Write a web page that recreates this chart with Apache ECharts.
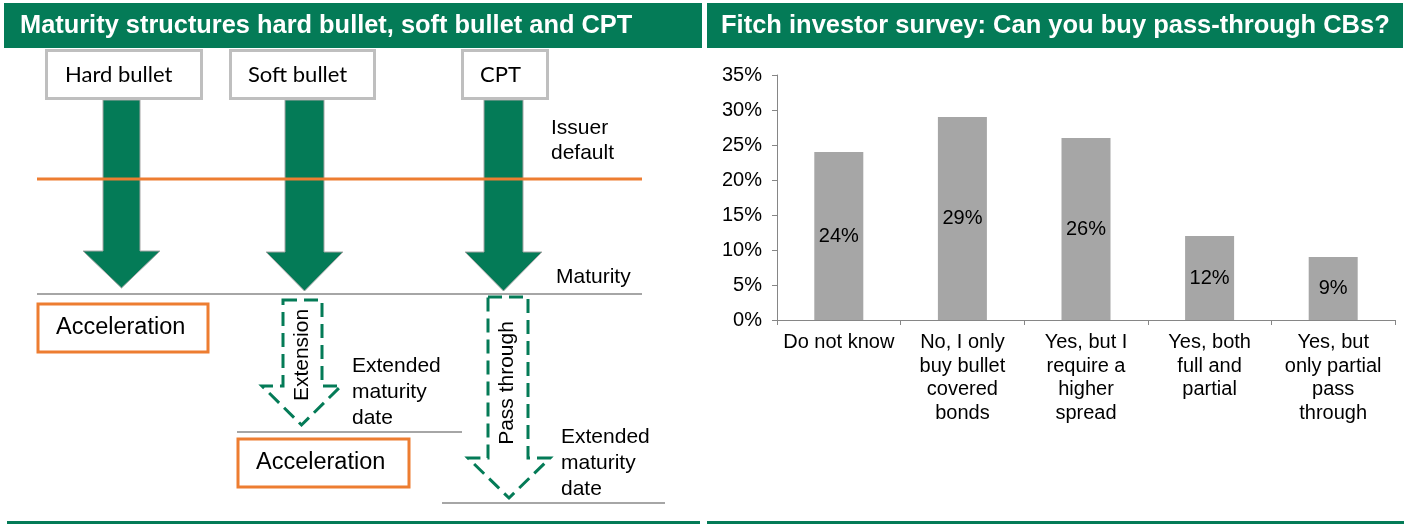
<!DOCTYPE html>
<html>
<head>
<meta charset="utf-8">
<script src="https://cdn.jsdelivr.net/npm/echarts@6/dist/echarts.min.js"></script>
<style>
  html, body { margin: 0; padding: 0; background: #fff; }
  #chart { width: 1410px; height: 524px; }
</style>
</head>
<body>
<div id="chart"></div>
<script>
// survey answers (share of investors, %)
var categories = [
  "Do not know",
  "No, I only\nbuy bullet\ncovered\nbonds",
  "Yes, but I\nrequire a\nhigher\nspread",
  "Yes, both\nfull and\npartial",
  "Yes, but\nonly partial\npass\nthrough"
];
var shares = [24, 29, 26, 12, 9];
var yMin = 0, yMax = 35, yStep = 5;

// diagram labels
var leftTitle = "Maturity structures hard bullet, soft bullet and CPT";
var rightTitle = "Fitch investor survey: Can you buy pass-through CBs?";
var structures = ["Hard bullet", "Soft bullet", "CPT"];

(function () {
  var myChart = echarts.init(document.getElementById("chart"));
  var green = "#047b57";
  var orange = "#ed7d31";
  var grey = "#a6a6a6";
  var arial = "'Liberation Sans', Arial, sans-serif";

  function txt(x, y, text, size, opts) {
    opts = opts || {};
    return {
      type: "text",
      x: x,
      y: y,
      rotation: opts.rotation || 0,
      style: {
        text: text,
        fontSize: size,
        fontFamily: opts.family || arial,
        fontWeight: opts.weight || "normal",
        lineHeight: opts.lineHeight || size * 1.2,
        fill: opts.fill || "#000",
        align: opts.align || "left",
        verticalAlign: opts.va || "middle",
        textAlign: opts.align || "left",
        textVerticalAlign: opts.va || "middle"
      }
    };
  }
  function line(x1, y1, x2, y2, color, w) {
    return { type: "line", shape: { x1: x1, y1: y1, x2: x2, y2: y2 }, style: { stroke: color, lineWidth: w } };
  }
  function box(x, y, w, h, color) {
    return { type: "rect", shape: { x: x, y: y, width: w, height: h }, style: { fill: "#fff", stroke: color, lineWidth: 3 } };
  }
  // down arrow: shaft l..r, head wings hl..hr, top, head start, tip
  function arrowPts(l, r, hl, hr, top, hy, tip) {
    var cx = (hl + hr) / 2;
    return [[l, top], [r, top], [r, hy], [hr, hy], [cx, tip], [hl, hy], [l, hy]];
  }

  var graphics = [
    // headers
    { type: "rect", shape: { x: 4, y: 3, width: 698, height: 45 }, style: { fill: green } },
    { type: "rect", shape: { x: 707, y: 3, width: 696, height: 45 }, style: { fill: green } },
    txt(20, 26, leftTitle, 25.4, { weight: "bold", fill: "#fff" }),
    txt(721, 26, rightTitle, 25.5, { weight: "bold", fill: "#fff" }),
    // bottom rules
    { type: "rect", shape: { x: 7, y: 521, width: 693, height: 3 }, style: { fill: green } },
    { type: "rect", shape: { x: 707, y: 521, width: 697, height: 3 }, style: { fill: green } },

    // solid arrows
    { type: "polygon", shape: { points: arrowPts(103, 140, 83, 160, 100, 251, 288) }, style: { fill: green, stroke: grey, lineWidth: 1 } },
    { type: "polygon", shape: { points: arrowPts(285, 324, 266, 343, 100, 252, 291) }, style: { fill: green, stroke: grey, lineWidth: 1 } },
    { type: "polygon", shape: { points: arrowPts(484, 523, 465, 542, 100, 252, 291) }, style: { fill: green, stroke: grey, lineWidth: 1 } },

    // structure boxes
    box(46.5, 50.5, 155, 48, "#bfbfbf"),
    box(230.5, 50.5, 144, 48, "#bfbfbf"),
    box(462.5, 50.5, 85, 48, "#bfbfbf"),
    txt(65, 75, structures[0], 22, { family: "Lato, sans-serif" }),
    txt(248, 75, structures[1], 22, { family: "Lato, sans-serif" }),
    txt(480, 75, structures[2], 22, { family: "Lato, sans-serif" }),

    // issuer default and maturity lines
    line(37, 179, 642, 179, orange, 3),
    line(37, 294, 642, 294, grey, 2),
    txt(551, 141, "Issuer\ndefault", 21, { lineHeight: 25 }),
    txt(556, 277, "Maturity", 21),

    // hard bullet acceleration
    box(38, 304, 170, 48, orange),
    txt(56, 328, "Acceleration", 23.5),

    // soft bullet extension
    { type: "polygon", shape: { points: arrowPts(283, 322, 262, 341, 300, 386, 425) }, style: { fill: "none", stroke: green, lineWidth: 3, lineDash: [14, 7] } },
    txt(302, 355, "Extension", 21, { rotation: Math.PI / 2, align: "center" }),
    txt(352, 392, "Extended\nmaturity\ndate", 21, { lineHeight: 26 }),
    line(237, 432, 462, 432, grey, 2),
    box(238, 439, 171, 48, orange),
    txt(256, 463, "Acceleration", 23.5),

    // CPT pass through
    { type: "polygon", shape: { points: arrowPts(488, 528, 468, 550, 297, 458, 498) }, style: { fill: "none", stroke: green, lineWidth: 3, lineDash: [14, 7] } },
    txt(507, 383, "Pass through", 21, { rotation: Math.PI / 2, align: "center" }),
    txt(561, 463, "Extended\nmaturity\ndate", 21, { lineHeight: 26 }),
    line(442, 503, 665, 503, grey, 2)
  ];

  var option = {
    animation: false,
    backgroundColor: "#fff",
    textStyle: { fontFamily: arial },
    graphic: graphics,
    grid: { left: 777, top: 75, width: 618, height: 245 },
    xAxis: {
      type: "category",
      data: categories,
      boundaryGap: true,
      axisLine: { lineStyle: { color: "#868686", width: 1 } },
      axisTick: { show: true, length: 5, lineStyle: { color: "#868686" } },
      axisLabel: { interval: 0, color: "#000", fontSize: 20, lineHeight: 23.5, margin: 11, align: "center" }
    },
    yAxis: {
      type: "value",
      min: yMin,
      max: yMax,
      interval: yStep,
      splitLine: { show: false },
      axisLine: { show: true, lineStyle: { color: "#868686", width: 1 } },
      axisTick: { show: true, length: 5, lineStyle: { color: "#868686" } },
      axisLabel: { color: "#000", fontSize: 20, margin: 15, formatter: "{value}%" }
    },
    series: [
      {
        type: "bar",
        data: shares,
        barWidth: 49,
        itemStyle: { color: "#a6a6a6" },
        label: {
          show: true,
          position: "inside",
          color: "#000",
          fontSize: 20,
          formatter: "{c}%"
        }
      }
    ]
  };
  myChart.setOption(option);
  window.addEventListener("resize", function () {
    myChart.resize();
  });
})();
</script>
</body>
</html>
